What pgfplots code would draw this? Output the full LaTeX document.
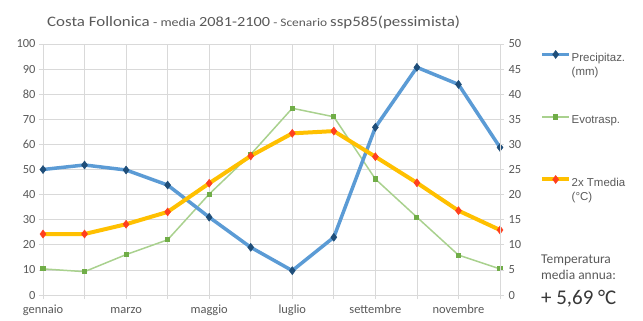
\documentclass[border=0pt]{standalone}
\usepackage{fontspec}
\setmainfont{Carlito}
\newfontfamily\arialfont{Liberation Sans}
\newfontfamily\titlefont[FakeStretch=1.17]{Carlito}
\usepackage{pgfplots}
\usepackage{pgfplotstable}
\pgfplotsset{compat=1.18}
\definecolor{txt}{HTML}{595959}
\definecolor{gridc}{HTML}{D9D9D9}
\definecolor{pblue}{HTML}{5B9BD5}
\definecolor{pdblue}{HTML}{1F4E79}
\definecolor{egreen}{HTML}{A9D18E}
\definecolor{edgreen}{HTML}{70AD47}
\definecolor{torange}{HTML}{FFC000}
\definecolor{tred}{HTML}{FF3F1F}

\pgfplotstableread{
m prec evo temp
0 50 10.4 24.3
1 51.8 9.3 24.3
2 49.8 16.1 28.2
3 43.8 22 33.1
4 31 40.2 44.5
5 19 56 55.4
6 9.7 74.4 64.4
7 23 71 65.3
8 66.8 46.2 55.1
9 90.7 31 44.7
10 83.9 15.9 33.6
11 58.8 10.4 25.9
}\datatable

\begin{document}
\begin{tikzpicture}[x=1bp,y=1bp]
\useasboundingbox (0,0) rectangle (643,320);
\begin{axis}[
  at={(43bp,25bp)}, anchor=south west,
  scale only axis, width=457bp, height=251bp,
  xmin=0, xmax=11, ymin=0, ymax=100,
  xtick={0,...,11},
  xticklabels={gennaio,,marzo,,maggio,,luglio,,settembre,,novembre,},
  ytick={0,10,...,100},
  xtick pos=bottom, ytick pos=left,
  grid=major,
  major grid style={gridc, line width=0.8bp},
  axis line style={gridc, line width=0.8bp},
  tick style={gridc, line width=0.8bp},
  tick align=outside, major tick length=4bp,
  /pgf/number format/assume math mode=true,
  tick label style={font=\fontsize{12.5}{14}\selectfont, text=txt},
  xticklabel style={text height=9bp, text depth=3bp, yshift=-1.5bp},
  clip=false,
  legend image code/.code={\draw[mark repeat=2,mark phase=2,#1] plot coordinates {(0bp,0bp) (13.5bp,0bp) (27bp,0bp)};},
  legend style={at={(axis description cs:1.0875,0.975)}, anchor=north west,
    draw=none, fill=none, inner sep=0pt,
    font=\arialfont\fontsize{11.5}{14}\selectfont, text=txt,
    row sep={62.5bp,between origins},
    cells={anchor=base west},
    nodes={yshift=-3.5bp, inner xsep=0.5bp, inner ysep=0pt}},
  legend cell align=left,
]
\addplot[egreen, line width=1.5bp, mark=square*, mark size=1.8bp, mark options={fill=edgreen, draw=edgreen}, forget plot] table[x=m,y=evo] {\datatable};
\addplot[pblue, line width=3.5bp, mark=diamond*, mark size=4bp, mark options={fill=pdblue, draw=pdblue, line width=0.5bp}] table[x=m,y=prec] {\datatable};
\addlegendentry{\vtop{\hbox{Precipitaz.}\hbox{(mm)}}}
\addlegendimage{egreen, line width=1.5bp, mark=square*, mark size=1.8bp, mark options={fill=edgreen, draw=edgreen}}
\addlegendentry{Evotrasp.}
\addplot[torange, line width=4bp, mark=diamond*, mark size=4bp, mark options={fill=tred, draw=tred, line width=0.5bp}] table[x=m,y=temp] {\datatable};
\addlegendentry{\vtop{\hbox{2x Tmedia}\hbox{(°C)}}}
\end{axis}
\begin{axis}[
  at={(43bp,25bp)}, anchor=south west,
  scale only axis, width=457bp, height=251bp,
  xmin=0, xmax=11, ymin=0, ymax=50,
  hide x axis,
  axis y line*=right,
  ytick={0,5,...,50},
  axis line style={gridc, line width=0.8bp},
  tick style={gridc, line width=0.8bp},
  tick align=outside, major tick length=4bp,
  /pgf/number format/assume math mode=true,
  yticklabel style={font=\fontsize{12.5}{14}\selectfont, text=txt, anchor=west, xshift=1bp},
]
\addplot[draw=none] coordinates {(0,0)};
\end{axis}
\node[anchor=base west, text=txt, inner sep=0pt] at (47,294) {\titlefont\fontsize{14.5}{18}\selectfont Costa Follonica\fontsize{12}{15}\selectfont{} - media \fontsize{14}{17}\selectfont 2081-2100\fontsize{11.5}{15}\selectfont{} - Scenario \fontsize{14.5}{18}\selectfont ssp585(pessimista)};
\node[anchor=base west, text=txt, inner sep=0pt] at (541,57) {\fontsize{13.5}{16}\selectfont Temperatura};
\node[anchor=base west, text=txt, inner sep=0pt] at (541,41) {\fontsize{13.5}{16}\selectfont media annua:};
\node[anchor=base west, text=black!78, inner sep=0pt] at (541,16) {\fontsize{21}{24}\selectfont + 5,69 °C};
\end{tikzpicture}
\end{document}
